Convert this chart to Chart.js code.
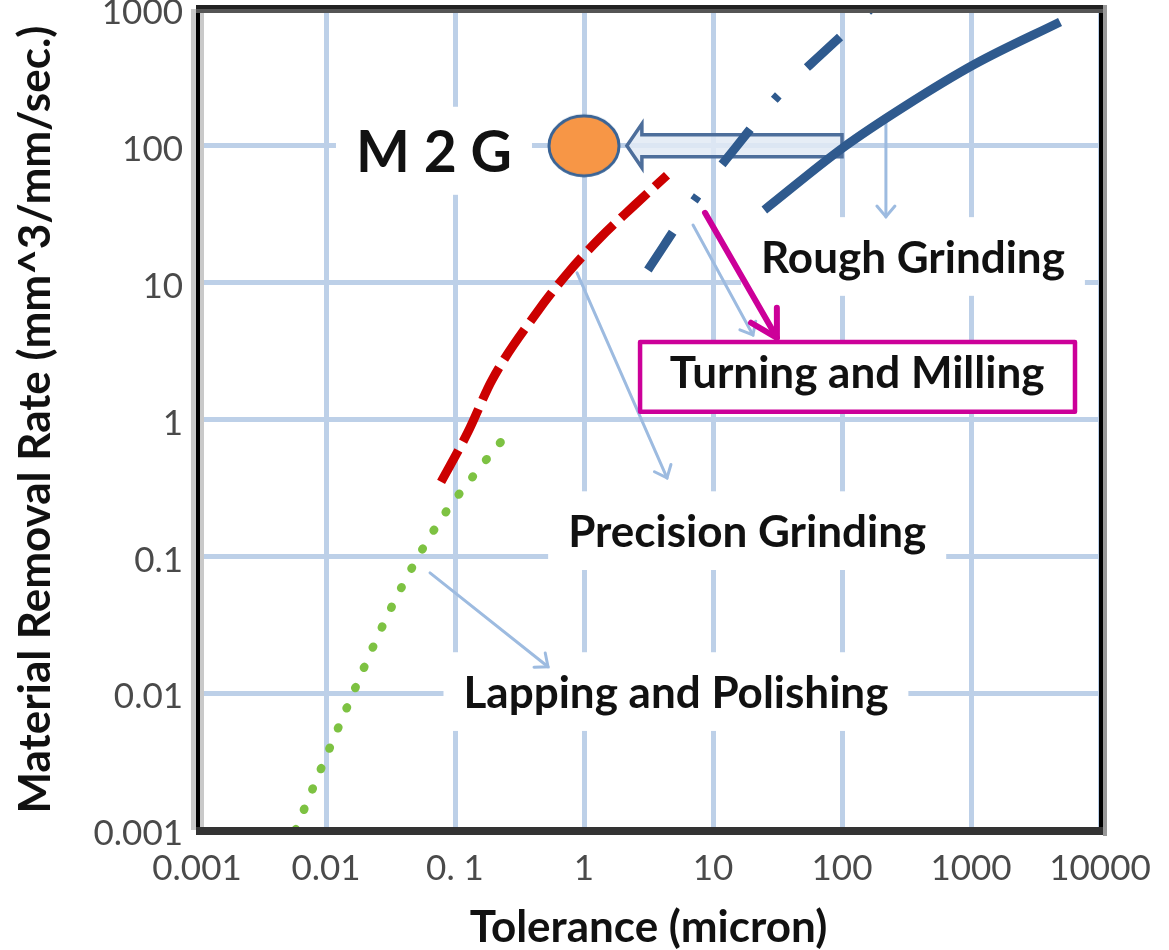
<!DOCTYPE html>
<html>
<head>
<meta charset="utf-8">
<title>Material Removal Rate vs Tolerance</title>
<script src="https://cdn.jsdelivr.net/npm/chart.js@4.4.1/dist/chart.umd.min.js"></script>
<style>
  html, body { margin: 0; padding: 0; background: #fff; }
  #chart { display: block; }
</style>
</head>
<body>
<canvas id="chart" width="1169" height="950"></canvas>
<script>
// ----------------------
// Data
// ----------------------
const xTickValues = [0.001, 0.01, 0.1, 1, 10, 100, 1000, 10000];
const xTickLabels = ['0.001', '0.01', '0. 1', '1', '10', '100', '1000', '10000'];
const yTickValues = [0.001, 0.01, 0.1, 1, 10, 100, 1000];
const yTickLabels = ['0.001', '0.01', '0.1', '1', '10', '100', '1000'];

// Lapping and Polishing (green dotted)
const lappingX = [0.0058, 0.0136, 0.032, 0.072, 0.153, 0.26];
const lappingY = [0.001, 0.0068, 0.042, 0.167, 0.435, 0.8];

// Precision Grinding (red dashed)
const precisionX = [0.078, 0.126, 0.194, 0.433, 0.75, 1.33, 2.48, 4.4];
const precisionY = [0.35, 0.81, 1.95, 6.1, 11.8, 21.2, 37, 61];

// Turning and Milling (blue dash-dot)
const turningX = [3.13, 7.5, 15.1, 31.3, 74, 180];
const turningY = [12.4, 42.4, 98, 228, 495, 1070];

// Rough Grinding (blue solid)
const roughX = [25, 102, 308, 1074, 4900];
const roughY = [34, 97, 195, 396, 804];

// M2G marker
const m2gX = [1];
const m2gY = [100];

// Annotations, in data coordinates
const regionLabels = [
    { text: 'Rough Grinding', x: 355, y: 11.8, size: 44 },
    { text: 'Precision Grinding', x: 18.4, y: 0.117, size: 44 },
    { text: 'Lapping and Polishing', x: 5.16, y: 0.0078, size: 44 },
    { text: 'M 2 G', x: 0.0687, y: 64.6, size: 57 }
];
const calloutArrows = [
    [219, 147, 219, 30.3],
    [7.0, 26.4, 20.4, 4.15],
    [0.883, 11.8, 4.4, 0.374],
    [0.064, 0.0757, 0.526, 0.0156]
];
const blockArrow = { from: 100, to: 2.15, y: 100 };
const turningBox = { x1: 2.72, y1: 3.69, x2: 6400, y2: 1.14, text: 'Turning and Milling', tx: 131, ty: 1.70 };
const magentaArrow = [8.67, 32.4, 31.3, 3.95];

const FONT = 'Lato, "Noto Sans", sans-serif';
const zip = (xs, ys) => xs.map((x, i) => ({ x, y: ys[i] }));

// orange ellipse used as the M2G point style
const m2gMark = document.createElement('canvas');
m2gMark.width = 78;
m2gMark.height = 68;
const mctx = m2gMark.getContext('2d');
mctx.beginPath();
mctx.ellipse(39, 34, 35, 30, 0, 0, Math.PI * 2);
mctx.fillStyle = '#F79646';
mctx.fill();
mctx.lineWidth = 3;
mctx.strokeStyle = '#3A6496';
mctx.stroke();

function arrowHead(ctx, x1, y1, x2, y2, len, ang) {
    const a = Math.atan2(y2 - y1, x2 - x1);
    ctx.beginPath();
    ctx.moveTo(x2 - len * Math.cos(a - ang), y2 - len * Math.sin(a - ang));
    ctx.lineTo(x2, y2);
    ctx.lineTo(x2 - len * Math.cos(a + ang), y2 - len * Math.sin(a + ang));
    ctx.stroke();
}

// ----------------------
// Annotation plugin
// ----------------------
const annotate = {
    id: 'annotate',
    beforeDatasetsDraw(chart) {
        const { ctx, scales: { x, y } } = chart;
        ctx.save();

        // white backing behind region labels (hides the grid)
        regionLabels.forEach(l => {
            ctx.font = `bold ${l.size}px ${FONT}`;
            const w = ctx.measureText(l.text).width;
            const px = x.getPixelForValue(l.x);
            const py = y.getPixelForValue(l.y);
            const cap = l.size * 0.72;
            ctx.fillStyle = '#fff';
            ctx.fillRect(px - w / 2 - 20, py - cap - 24, w + 40, cap + 47);
        });

        // thin light-blue callout arrows
        ctx.strokeStyle = '#9DBBE0';
        ctx.lineWidth = 3;
        ctx.lineCap = 'round';
        calloutArrows.forEach(a => {
            const x1 = x.getPixelForValue(a[0]), y1 = y.getPixelForValue(a[1]);
            const x2 = x.getPixelForValue(a[2]), y2 = y.getPixelForValue(a[3]);
            ctx.beginPath();
            ctx.moveTo(x1, y1);
            ctx.lineTo(x2, y2);
            ctx.stroke();
            arrowHead(ctx, x1, y1, x2, y2, 14, 0.7);
        });

        // hollow block arrow pointing at M2G
        const tip = x.getPixelForValue(blockArrow.to);
        const tail = x.getPixelForValue(blockArrow.from);
        const cy = y.getPixelForValue(blockArrow.y);
        ctx.beginPath();
        ctx.moveTo(tip, cy);
        ctx.lineTo(tip + 15, cy - 22);
        ctx.lineTo(tip + 15, cy - 11);
        ctx.lineTo(tail, cy - 11);
        ctx.lineTo(tail, cy + 11);
        ctx.lineTo(tip + 15, cy + 11);
        ctx.lineTo(tip + 15, cy + 22);
        ctx.closePath();
        ctx.fillStyle = 'rgba(226,234,245,0.85)';
        ctx.fill();
        ctx.strokeStyle = '#4D6E9B';
        ctx.lineWidth = 3.5;
        ctx.lineJoin = 'miter';
        ctx.stroke();

        ctx.restore();
    },
    afterDatasetsDraw(chart) {
        const { ctx, scales: { x, y } } = chart;
        ctx.save();

        // region label text
        ctx.fillStyle = '#111';
        ctx.textAlign = 'center';
        ctx.textBaseline = 'alphabetic';
        regionLabels.forEach(l => {
            ctx.font = `bold ${l.size}px ${FONT}`;
            ctx.fillText(l.text, x.getPixelForValue(l.x), y.getPixelForValue(l.y));
        });

        // magenta box with "Turning and Milling"
        const bx1 = x.getPixelForValue(turningBox.x1), by1 = y.getPixelForValue(turningBox.y1);
        const bx2 = x.getPixelForValue(turningBox.x2), by2 = y.getPixelForValue(turningBox.y2);
        ctx.fillStyle = '#fff';
        ctx.fillRect(bx1, by1, bx2 - bx1, by2 - by1);
        ctx.strokeStyle = '#CC0099';
        ctx.lineWidth = 4.5;
        ctx.lineJoin = 'round';
        ctx.strokeRect(bx1, by1, bx2 - bx1, by2 - by1);
        ctx.fillStyle = '#111';
        ctx.font = `bold 44px ${FONT}`;
        ctx.fillText(turningBox.text, x.getPixelForValue(turningBox.tx), y.getPixelForValue(turningBox.ty));

        // magenta arrow
        const m = magentaArrow;
        const mx1 = x.getPixelForValue(m[0]), my1 = y.getPixelForValue(m[1]);
        const mx2 = x.getPixelForValue(m[2]), my2 = y.getPixelForValue(m[3]);
        ctx.lineWidth = 6;
        ctx.lineCap = 'round';
        ctx.beginPath();
        ctx.moveTo(mx1, my1);
        ctx.lineTo(mx2, my2);
        ctx.stroke();
        arrowHead(ctx, mx1, my1, mx2, my2, 30, 0.52);

        ctx.restore();
    },
    afterDraw(chart) {
        // plot frame with soft shadow, like the original picture
        const { ctx, chartArea: { left, right, top, bottom } } = chart;
        ctx.save();
        ctx.fillStyle = '#c9c9c9';
        ctx.fillRect(left - 6, top, 5, bottom - top);
        ctx.fillRect(left + 3, top, 4, bottom - top);
        ctx.fillStyle = '#000';
        ctx.fillRect(left - 1, top - 4, 4, bottom - top + 8);
        ctx.fillStyle = '#999';
        ctx.fillRect(right + 3, top - 4, 4, bottom - top + 10);
        ctx.fillStyle = '#000';
        ctx.fillRect(right - 1, top - 4, 4, bottom - top + 8);
        ctx.fillStyle = '#222';
        ctx.fillRect(left - 1, top - 4, right - left + 4, 4);
        ctx.fillStyle = '#555';
        ctx.fillRect(left - 1, top, right - left + 4, 4);
        ctx.fillStyle = '#333';
        ctx.fillRect(left - 1, bottom - 3, right - left + 4, 8);
        ctx.restore();
    }
};

// ----------------------
// Chart
// ----------------------
Chart.defaults.font.family = FONT;
const tickFont = { family: FONT, size: 35 };
const titleFont = { family: FONT, size: 44, weight: 'bold', lineHeight: 1 };

new Chart(document.getElementById('chart'), {
    type: 'scatter',
    data: {
        datasets: [
            {
                label: 'M2G',
                data: zip(m2gX, m2gY),
                pointStyle: m2gMark,
                pointRadius: 34,
                showLine: false
            },
            {
                label: 'Rough Grinding',
                data: zip(roughX, roughY),
                showLine: true,
                borderColor: '#2F5A8E',
                borderWidth: 9,
                borderCapStyle: 'butt',
                cubicInterpolationMode: 'monotone',
                pointRadius: 0
            },
            {
                label: 'Turning and Milling',
                data: zip(turningX, turningY),
                showLine: true,
                borderColor: '#2F5A8E',
                borderWidth: 9,
                borderDash: [45, 38, 6, 40],
                borderCapStyle: 'butt',
                cubicInterpolationMode: 'monotone',
                pointRadius: 0
            },
            {
                label: 'Precision Grinding',
                data: zip(precisionX, precisionY),
                showLine: true,
                borderColor: '#CC0000',
                borderWidth: 9,
                borderDash: [36, 10],
                borderCapStyle: 'butt',
                cubicInterpolationMode: 'monotone',
                pointRadius: 0
            },
            {
                label: 'Lapping and Polishing',
                data: zip(lappingX, lappingY),
                showLine: true,
                borderColor: '#7DC242',
                borderWidth: 8.5,
                borderDash: [1, 21],
                borderCapStyle: 'round',
                cubicInterpolationMode: 'monotone',
                pointRadius: 0
            }
        ]
    },
    options: {
        responsive: false,
        devicePixelRatio: 1,
        animation: false,
        // no auto padding: the big M2G marker would otherwise push the plot down
        layout: { autoPadding: false, padding: { top: 9, right: 69, bottom: 0, left: 0 } },
        plugins: {
            legend: { display: false },
            tooltip: { enabled: false }
        },
        scales: {
            x: {
                type: 'logarithmic',
                position: 'bottom',
                min: 0.001,
                max: 10000,
                afterBuildTicks: s => { s.ticks = xTickValues.map(v => ({ value: v })); },
                afterFit: s => { s.height = 120; },
                ticks: {
                    autoSkip: false,
                    maxRotation: 0,
                    padding: 18,
                    color: '#4a4a4a',
                    font: tickFont,
                    callback: (v, i) => xTickLabels[i]
                },
                grid: { color: '#BDD0E8', lineWidth: 5, drawTicks: false },
                border: { display: false },
                title: { display: true, text: 'Tolerance (micron)', color: '#111', font: titleFont, padding: 0 }
            },
            y: {
                type: 'logarithmic',
                min: 0.001,
                max: 1000,
                afterBuildTicks: s => { s.ticks = yTickValues.map(v => ({ value: v })); },
                afterFit: s => { s.width = 197; },
                ticks: {
                    autoSkip: false,
                    padding: 0,
                    labelOffset: 4,
                    color: '#4a4a4a',
                    // small line height keeps the top label from pushing the plot down
                    font: { family: FONT, size: 35, lineHeight: 0.4 },
                    callback: (v, i) => yTickLabels[i]
                },
                grid: {
                    color: '#BDD0E8',
                    lineWidth: 5,
                    drawTicks: true,
                    tickLength: 14,
                    tickColor: 'rgba(0,0,0,0)'
                },
                border: { display: false },
                title: {
                    display: true,
                    text: 'Material Removal Rate (mm^3/mm/sec.)',
                    color: '#111',
                    font: titleFont,
                    padding: { top: 14, bottom: 0 }
                }
            }
        }
    },
    plugins: [annotate]
});
</script>
</body>
</html>
